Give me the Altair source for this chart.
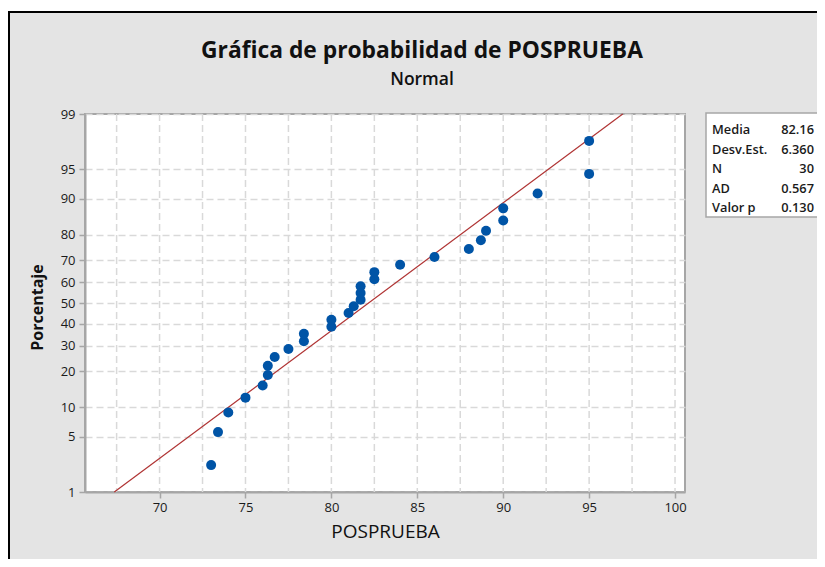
import altair as alt
import pandas as pd
from statistics import NormalDist

# ---- data ----
values = [73.0, 73.4, 74.0, 75.0, 76.0, 76.3, 76.3, 76.7, 77.5, 78.4,
          78.4, 80.0, 80.0, 81.0, 81.3, 81.7, 81.7, 81.7, 82.5, 82.5,
          84.0, 86.0, 88.0, 88.7, 89.0, 90.0, 90.0, 92.0, 95.0, 95.0]
percent = [2.3, 5.6, 8.9, 12.2, 15.5, 18.8, 22.0, 25.3, 28.6, 31.9,
           35.2, 38.5, 41.8, 45.1, 48.4, 51.6, 54.9, 58.2, 61.5, 64.8,
           68.1, 71.4, 74.7, 78.0, 81.3, 84.5, 87.8, 91.1, 94.4, 97.7]

y_tick_pct = [1, 5, 10, 20, 30, 40, 50, 60, 70, 80, 90, 95, 99]
x_ticks = [70, 75, 80, 85, 90, 95, 100]
x_grid = [67.5, 70, 72.5, 75, 77.5, 80, 82.5, 85, 87.5, 90, 92.5, 95, 97.5, 100]

stat_labels = ["Media", "Desv.Est.", "N", "AD", "Valor p"]
stat_values = ["82.16", "6.360", "30", "0.567", "0.130"]
mean_val = 82.16
sd_val = 6.360

title_text = "Gráfica de probabilidad de POSPRUEBA"
subtitle_text = "Normal"
x_title = "POSPRUEBA"
y_title = "Porcentaje"

FONT = "Open Sans"
W, H = 600, 378

nd = NormalDist()
z = lambda p: nd.inv_cdf(p / 100.0)

pts = pd.DataFrame({"x": values, "pct": percent})
pts["z"] = [z(p) for p in percent]

fit = pd.DataFrame({"pct": [1, 99]})
fit["z"] = [z(p) for p in fit["pct"]]
fit["x"] = [mean_val + sd_val * v for v in fit["z"]]

y_tick_z = [z(p) for p in y_tick_pct]
parts = [f"abs(datum.value - ({zz:.5f})) < 0.01 ? '{p}'" for zz, p in zip(y_tick_z, y_tick_pct)]
label_expr = " : ".join(parts) + " : ''"

xscale = alt.Scale(domain=[65.66, 100.58], nice=False, zero=False)
yscale = alt.Scale(domain=[z(1), z(99)], nice=False, zero=False)

xaxis = alt.Axis(values=x_ticks, format="d", grid=False, title=x_title,
                 tickSize=6, labelPadding=3, titlePadding=8,
                 titleFontSize=19, titleFontWeight="normal")
yaxis = alt.Axis(values=y_tick_z, labelExpr=label_expr, grid=True,
                 gridDash=[7, 4], gridColor="#d9d9d9", gridWidth=1.5,
                 title=y_title, tickSize=6, labelPadding=4,
                 titleFontSize=16, titleFontWeight="bold",
                 titleX=-48, titleY=193, titleAngle=270,
                 titleAlign="center", titleBaseline="middle")

one = pd.DataFrame({"a": [0]})

vgrid = alt.Chart(pd.DataFrame({"g": x_grid})).mark_rule(
    color="#d9d9d9", strokeDash=[7, 4], strokeWidth=1.5
).encode(x=alt.X("g:Q", scale=xscale, axis=xaxis))

line = alt.Chart(fit).mark_line(color="#b03434", strokeWidth=1.2).encode(
    x=alt.X("x:Q", scale=xscale, axis=xaxis),
    y=alt.Y("z:Q", scale=yscale, axis=yaxis),
)

points = alt.Chart(pts).mark_point(
    filled=True, shape="circle", size=100, color="#0054a6", opacity=1
).encode(
    x=alt.X("x:Q", scale=xscale, axis=xaxis),
    y=alt.Y("z:Q", scale=yscale, axis=yaxis),
)

layers = [vgrid, line, points]

# frame decoration (white strip + black border)
layers.append(alt.Chart(one).mark_rect(color="white").encode(
    x=alt.value(-77), x2=alt.value(740), y=alt.value(-106), y2=alt.value(-103)))
layers.append(alt.Chart(one).mark_rule(color="black", strokeWidth=2).encode(
    x=alt.value(-77), x2=alt.value(740), y=alt.value(-102), y2=alt.value(-102)))
layers.append(alt.Chart(one).mark_rule(color="black", strokeWidth=2).encode(
    x=alt.value(-76), y=alt.value(-102), y2=alt.value(480)))

# titles
layers.append(alt.Chart(pd.DataFrame({"t": [title_text]})).mark_text(
    font=FONT, fontSize=22.8, fontWeight="bold", align="center",
    baseline="alphabetic", color="#111111"
).encode(text="t:N", x=alt.value(337), y=alt.value(-56)))
layers.append(alt.Chart(pd.DataFrame({"t": [subtitle_text]})).mark_text(
    font=FONT, fontSize=17.5, fontWeight=600, align="center",
    baseline="alphabetic", color="#111111"
).encode(text="t:N", x=alt.value(337), y=alt.value(-29)))

# stats box
layers.append(alt.Chart(one).mark_rect(fill="white", stroke="#a6a6a6", strokeWidth=1.5).encode(
    x=alt.value(621), x2=alt.value(735), y=alt.value(-1), y2=alt.value(103)))
for i, (lab, val) in enumerate(zip(stat_labels, stat_values)):
    yy = 16 + i * 19.6
    layers.append(alt.Chart(pd.DataFrame({"t": [lab]})).mark_text(
        font=FONT, fontSize=12.8, fontWeight=600, align="left",
        baseline="middle", color="#1a1a1a"
    ).encode(text="t:N", x=alt.value(627), y=alt.value(yy)))
    layers.append(alt.Chart(pd.DataFrame({"t": [val]})).mark_text(
        font=FONT, fontSize=12.8, fontWeight=600, align="right",
        baseline="middle", color="#1a1a1a"
    ).encode(text="t:N", x=alt.value(729), y=alt.value(yy)))

chart = alt.layer(*layers).properties(
    width=W, height=H,
    autosize=alt.AutoSizeParams(type="none"),
    padding={"left": 77, "top": 106, "right": 132, "bottom": 67},
).configure(background="#e4e4e4", font=FONT).configure_view(
    fill="white", stroke="#a6a6a6", strokeWidth=2
).configure_axis(
    domainColor="#a6a6a6", domainWidth=2, tickColor="#a6a6a6", tickWidth=1.5,
    labelFont=FONT, labelFontSize=13, labelColor="#1a1a1a", labelFontWeight=500,
    titleFont=FONT, titleColor="#111111",
)

chart.save("out.html", embed_options={"renderer": "svg", "actions": False})
